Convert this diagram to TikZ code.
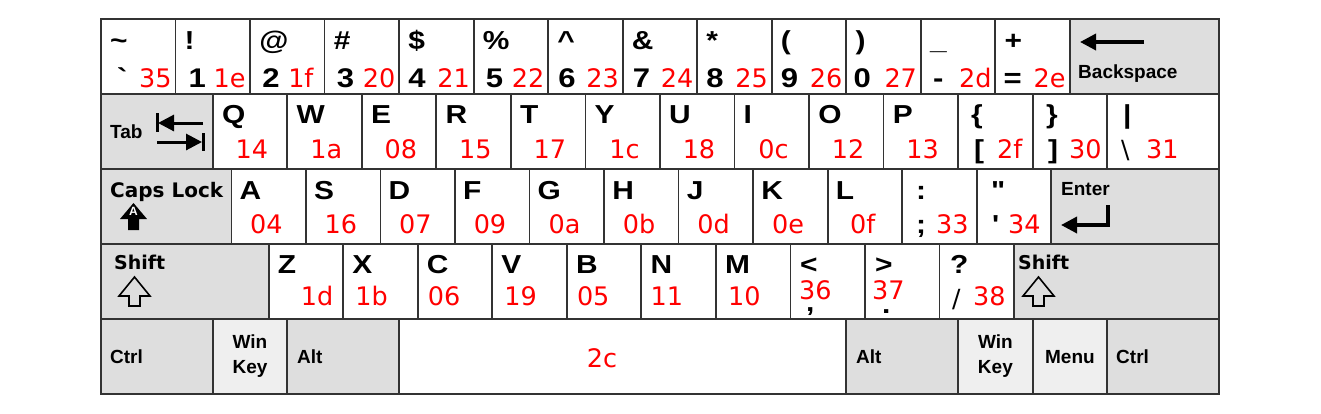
\documentclass[tikz,border=0pt]{standalone}
\usepackage{fontspec}
\newfontfamily\keyfont{Liberation Sans}[FakeStretch=1.15, Ligatures=TeXOff]
\newfontfamily\lblfont{Liberation Sans}[Ligatures=TeXOff]
\newfontfamily\hexfont{DejaVu Sans}
\newfontfamily\wideflbl{DejaVu Sans}
\usetikzlibrary{arrows.meta}
\definecolor{keyline}{HTML}{333333}
\definecolor{modgray}{HTML}{DEDEDE}
\definecolor{wingray}{HTML}{EFEFEF}
\definecolor{hexred}{HTML}{FF0000}
\tikzset{
  key/.style    ={rectangle, draw=keyline, line width=1.8pt, fill=white, anchor=north west,
                  inner sep=0pt, outer sep=0pt, minimum height=74.8pt, minimum width=#1*74.53pt},
  key/.default=1,
  modkey/.style ={key=#1, fill=modgray},
  modkey/.default=1,
  winkey/.style ={key=#1, fill=wingray},
  winkey/.default=1,
  glyph/.style  ={anchor=base west, inner sep=0pt, font=\keyfont\bfseries\fontsize{26}{26}\selectfont},
  thinglyph/.style={anchor=base west, inner sep=0pt, font=\hexfont\fontsize{25}{25}\selectfont},
  hex/.style    ={anchor=base west, inner sep=0pt, text=hexred, font=\hexfont\fontsize{25.5}{25.5}\selectfont},
  keylbl/.style ={anchor=base west, inner sep=0pt, font=\lblfont\bfseries\fontsize{19}{19}\selectfont},
  widelbl/.style={anchor=base west, inner sep=0pt, font=\wideflbl\bfseries\fontsize{19}{19}\selectfont},
  iconarr/.style={line width=3.5pt, -{Triangle[length=16pt, width=16pt]}},
  shiftarr/.style={draw=black, line width=1.6pt, line join=miter},
}

\begin{document}
\begin{tikzpicture}[x=1pt, y=-1pt]
\fill[white] (0,0) rectangle (1321,413);
% number row
\foreach \shifted/\plain/\pofs/\hexcode [count=\i from 0] in {{\textasciitilde}/{`}/16/35, !/1/13/1e, @/2/12/1f, {\#}/3/12/20, {\$}/4/9/21, {\%}/5/12/22, {\textasciicircum}/6/10/23, {\&}/7/10/24, */8/9/25, {(}/9/9/26, {)}/0/7/27, {\_}/-/12/2d, +/=/8/2e} {
  \pgfmathsetmacro\x{101+\i*74.53}
  \node[key] (n\i) at (\x,19) {};
  \node[glyph] (n\i-s) at (\x+9,49) {\shifted};
  \node[glyph, font=\keyfont\bfseries\fontsize{27}{27}\selectfont] (n\i-p) at (\x+\pofs,87) {\plain};
  \node[hex] (n\i-h) at (\x+38,87) {\hexcode};
}
\node[modkey=2] (bksp) at (1069.9,19) {};
\draw[iconarr] (1144,42) -- (1080,42);
\node[keylbl] (bksp-t) at (1078,78) {Backspace};
% top letter row
\node[modkey=1.5] (tab) at (101,94) {};
\node[keylbl] (tab-t) at (110,138) {Tab};
\draw[line width=3pt] (157,113) -- (157,132);
\draw[iconarr, line width=3pt] (203,123) -- (158,123);
\draw[line width=3pt] (203,133) -- (203,151);
\draw[iconarr, line width=3pt] (157,142) -- (202,142);
\foreach \letter/\hexcode [count=\i from 0] in {Q/14, W/1a, E/08, R/15, T/17, Y/1c, U/18, I/0c, O/12, P/13} {
  \pgfmathsetmacro\x{212.8+\i*74.53}
  \node[key] (q\i) at (\x,94) {};
  \node[glyph] (q\i-l) at (\x+9,123) {\letter};
  \node[hex, anchor=base] (q\i-h) at (\x+39,158) {\hexcode};
}
\node[key] (lbrk) at (958.1,94) {};
\node[glyph] (lbrk-s) at (971,123) {\{};
\node[glyph] (lbrk-p) at (974,158) {[};
\node[hex] (lbrk-h) at (997,158) {2f};
\node[key] (rbrk) at (1032.6,94) {};
\node[glyph] (rbrk-s) at (1046,123) {\}};
\node[glyph] (rbrk-p) at (1048,158) {]};
\node[hex] (rbrk-h) at (1069,158) {30};
\node[key=1.5] (bslash) at (1107.2,94) {};
\node[glyph] (bslash-s) at (1123,123) {|};
\node[thinglyph] (bslash-p) at (1121,158) {\textbackslash};
\node[hex] (bslash-h) at (1146,158) {31};
% home row
\node[modkey=1.75] (caps) at (101,169) {};
\node[widelbl, font=\wideflbl\bfseries\fontsize{20}{20}\selectfont] (caps-t) at (110,197) {Caps Lock};
\fill (133.5,203) -- (147,219) -- (139,219) -- (139,230) -- (128,230) -- (128,219) -- (120,219) -- cycle;
\node[anchor=base, inner sep=0pt, text=white, font=\lblfont\bfseries\fontsize{12}{12}\selectfont] (caps-a) at (133.5,215.5) {A};
\foreach \letter/\hexcode [count=\i from 0] in {A/04, S/16, D/07, F/09, G/0a, H/0b, J/0d, K/0e, L/0f} {
  \pgfmathsetmacro\x{231.4+\i*74.53}
  \node[key] (a\i) at (\x,169) {};
  \node[glyph] (a\i-l) at (\x+8,199) {\letter};
  \node[hex, anchor=base] (a\i-h) at (\x+35,233) {\hexcode};
}
\node[key] (semi) at (902.2,169) {};
\node[glyph] (semi-s) at (916,199) {:};
\node[glyph] (semi-p) at (916,233) {;};
\node[hex] (semi-h) at (936,233) {33};
\node[key] (quote) at (976.7,169) {};
\node[glyph] (quote-s) at (991,199) {"};
\node[glyph] (quote-p) at (992,233) {'};
\node[hex] (quote-h) at (1008,233) {34};
\node[modkey=2.25] (enter) at (1051.2,169) {};
\node[keylbl] (enter-t) at (1061,195) {Enter};
\draw[iconarr, line join=miter] (1108,205) -- (1108,225) -- (1061,225);
% bottom letter row
\node[modkey=2.25] (lshift) at (101,244) {};
\node[widelbl] (lshift-t) at (114,269) {Shift};
\draw[shiftarr] (134.5,277) -- (150,296) -- (140,296) -- (140,306) -- (129,306) -- (129,296) -- (119,296) -- cycle;
\foreach \letter/\hexcode/\hoff [count=\i from 0] in {Z/1d/32, X/1b/12, C/06/10, V/19/12, B/05/10, N/11/9, M/10/12} {
  \pgfmathsetmacro\x{268.7+\i*74.53}
  \node[key] (z\i) at (\x,244) {};
  \node[glyph] (z\i-l) at (\x+9,273) {\letter};
  \node[hex] (z\i-h) at (\x+\hoff,305) {\hexcode};
}
\node[key] (comma) at (790.4,244) {};
\node[glyph] (comma-s) at (800,273) {<};
\node[hex] (comma-h) at (799,299) {36};
\node[glyph] (comma-p) at (806,311) {,};
\node[key] (period) at (864.9,244) {};
\node[glyph] (period-s) at (875,273) {>};
\node[hex] (period-h) at (872,299) {37};
\node[glyph] (period-p) at (882,313) {.};
\node[key] (slash) at (939.4,244) {};
\node[glyph] (slash-s) at (950,273) {?};
\node[thinglyph] (slash-p) at (952,307) {/};
\node[hex] (slash-h) at (973,305) {38};
\node[modkey=2.75] (rshift) at (1014,244) {};
\node[widelbl] (rshift-t) at (1018,269) {Shift};
\draw[shiftarr] (1038.5,277) -- (1054,296) -- (1044,296) -- (1044,306) -- (1033,306) -- (1033,296) -- (1023,296) -- cycle;
% space row
\node[modkey=1.5] (lctrl) at (101,319) {};
\node[keylbl] (lctrl-t) at (110,363) {Ctrl};
\node[winkey] (lwin) at (212.8,319) {};
\node[keylbl, anchor=base] (lwin-t1) at (250,348) {Win};
\node[keylbl, anchor=base] (lwin-t2) at (250,373) {Key};
\node[modkey=1.5] (lalt) at (287.3,319) {};
\node[keylbl] (lalt-t) at (297,363) {Alt};
\node[key=6] (space) at (399.1,319) {};
\node[hex, anchor=base] (space-h) at (602,367) {2c};
\node[modkey=1.5] (ralt) at (846.3,319) {};
\node[keylbl] (ralt-t) at (856,363) {Alt};
\node[winkey] (rwin) at (958.1,319) {};
\node[keylbl, anchor=base] (rwin-t1) at (995.4,348) {Win};
\node[keylbl, anchor=base] (rwin-t2) at (995.4,373) {Key};
\node[winkey] (menu) at (1032.6,319) {};
\node[keylbl, anchor=base] (menu-t) at (1069.9,363) {Menu};
\node[modkey=1.5] (rctrl) at (1107.2,319) {};
\node[keylbl] (rctrl-t) at (1116,363) {Ctrl};
\end{tikzpicture}
\end{document}
